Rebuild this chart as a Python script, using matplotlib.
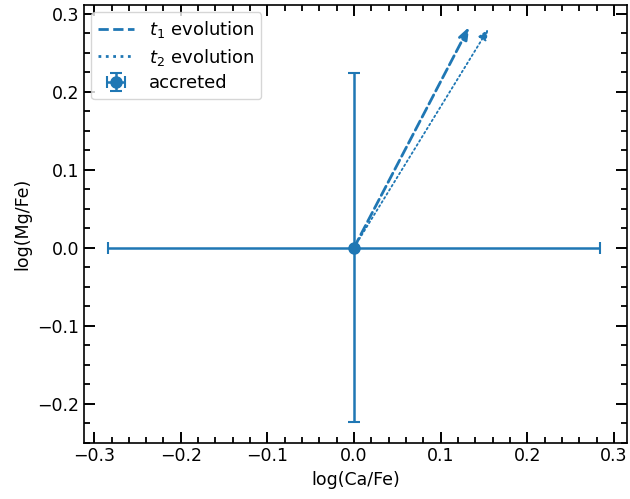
import numpy as np
import matplotlib.pyplot as plt
from matplotlib.ticker import AutoMinorLocator

# accreted point and its errors
acc_x = [0.0]
acc_y = [0.0]
acc_xerr = [0.284]
acc_yerr = [0.224]

# evolution arrow end points (start at the accreted point)
t1_end = (0.133, 0.283)
t2_end = (0.155, 0.280)

col = '#1f77b4'

fig, ax = plt.subplots(figsize=(6.3, 4.99), dpi=100)

ax.plot([], [], ls='--', color=col, lw=2, label=r'$t_1$ evolution')
ax.plot([], [], ls=':', color=col, lw=2, label=r'$t_2$ evolution')
ax.errorbar(acc_x, acc_y, xerr=acc_xerr, yerr=acc_yerr, fmt='o', color=col,
            capsize=4, ms=8, lw=1.8, capthick=1.5, label='accreted')

ax.annotate('', xy=t1_end, xytext=(acc_x[0], acc_y[0]),
            arrowprops=dict(arrowstyle='-|>,head_length=0.8,head_width=0.3',
                            color=col, lw=2, ls='--',
                            mutation_scale=9, shrinkA=0, shrinkB=0))
ax.annotate('', xy=t2_end, xytext=(acc_x[0], acc_y[0]),
            arrowprops=dict(arrowstyle='-|>,head_length=0.7,head_width=0.3',
                            color=col, lw=1.3, ls=':',
                            mutation_scale=9, shrinkA=0, shrinkB=0))

ax.set_xlim(-0.312, 0.315)
ax.set_ylim(-0.25, 0.311)
ax.set_xlabel('log(Ca/Fe)', fontsize=12.5)
ax.set_ylabel('log(Mg/Fe)', fontsize=12.5)

ax.xaxis.set_minor_locator(AutoMinorLocator(5))
ax.yaxis.set_minor_locator(AutoMinorLocator(4))
ax.tick_params(which='both', direction='in', top=True, right=True, labelsize=12.5)
ax.tick_params(which='major', length=8, width=1.4)
ax.tick_params(which='minor', length=4, width=1.3)
for s in ax.spines.values():
    s.set_linewidth(1.2)

ax.legend(loc='upper left', fontsize=13, labelspacing=0.35, borderaxespad=0.4)

plt.subplots_adjust(left=0.133, right=0.995, top=0.99, bottom=0.113)
plt.savefig('out.png', dpi=100)
